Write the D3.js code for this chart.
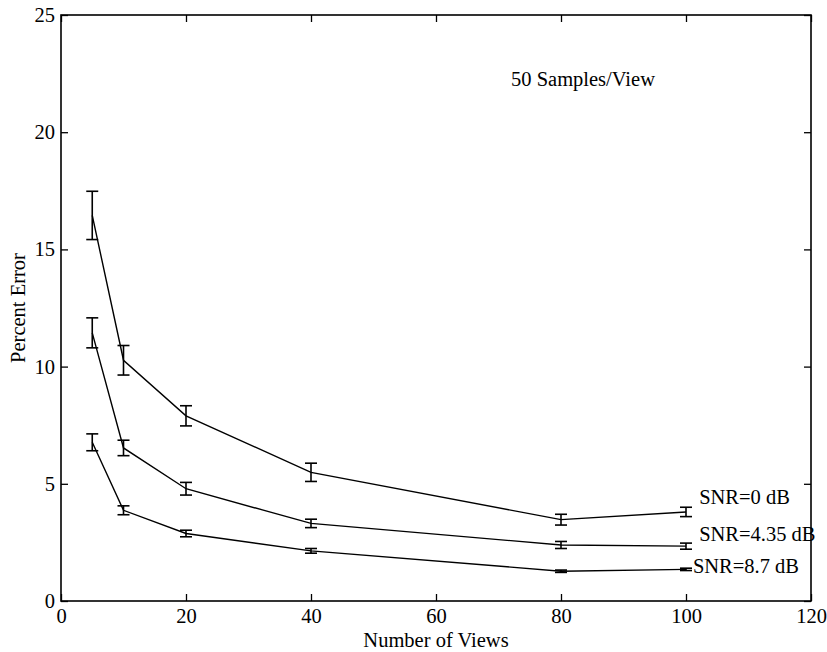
<!DOCTYPE html>
<html>
<head>
<meta charset="utf-8">
<script src="https://cdn.jsdelivr.net/npm/d3@7"></script>
<style>
  body { margin: 0; background: #fff; }
  svg { display: block; font-family: "Liberation Serif", "Times New Roman", serif; }
</style>
</head>
<body>
<div id="chart"></div>
<script>
// x values (number of views)
const views = [5, 10, 20, 40, 80, 100];

// mean percent error and half-width of error bar, per SNR
const snr0 = [16.45, 10.27, 7.9, 5.49, 3.47, 3.8];
const snr0Err = [1.03, 0.63, 0.43, 0.39, 0.23, 0.2];
const snr435 = [11.44, 6.53, 4.79, 3.31, 2.39, 2.34];
const snr435Err = [0.64, 0.33, 0.27, 0.18, 0.15, 0.13];
const snr87 = [6.77, 3.87, 2.88, 2.14, 1.27, 1.35];
const snr87Err = [0.36, 0.19, 0.14, 0.1, 0.05, 0.05];

const xTicks = [0, 20, 40, 60, 80, 100, 120];
const yTicks = [0, 5, 10, 15, 20, 25];

// text annotations in data coords
const notes = [
    { text: "50 Samples/View", x: 72, y: 21.97 },
    { text: "SNR=0 dB", x: 102.1, y: 4.14 },
    { text: "SNR=4.35 dB", x: 102.1, y: 2.56 },
    { text: "SNR=8.7 dB", x: 101.1, y: 1.19 }
];

const series = [
    { name: "SNR=0 dB", values: snr0, errs: snr0Err },
    { name: "SNR=4.35 dB", values: snr435, errs: snr435Err },
    { name: "SNR=8.7 dB", values: snr87, errs: snr87Err }
];

function drawChart() {
    const width = 827;
    const height = 652;
    const margin = { top: 15, right: 16, bottom: 51, left: 61 };
    const fontSize = 20.5;

    const svg = d3.select("#chart")
        .append("svg")
        .attr("width", width)
        .attr("height", height);

    svg.append("rect")
        .attr("width", width)
        .attr("height", height)
        .attr("fill", "#fff");

    const xScale = d3.scaleLinear()
        .domain([0, 120])
        .range([margin.left, width - margin.right]);

    const yScale = d3.scaleLinear()
        .domain([0, 25])
        .range([height - margin.bottom, margin.top]);

    // bottom axis, ticks pointing in
    const xAxis = svg.append("g")
        .attr("transform", `translate(0,${height - margin.bottom})`)
        .call(d3.axisBottom(xScale)
            .tickValues(xTicks)
            .tickSizeInner(-7)
            .tickSizeOuter(0)
            .tickPadding(7));

    // left axis
    const yAxis = svg.append("g")
        .attr("transform", `translate(${margin.left},0)`)
        .call(d3.axisLeft(yScale)
            .tickValues(yTicks)
            .tickSizeInner(-7)
            .tickSizeOuter(0)
            .tickPadding(6));

    // top and right: ticks only
    const topAxis = svg.append("g")
        .attr("transform", `translate(0,${margin.top})`)
        .call(d3.axisTop(xScale).tickValues(xTicks).tickSizeInner(-7).tickSizeOuter(0).tickFormat(""));

    const rightAxis = svg.append("g")
        .attr("transform", `translate(${width - margin.right},0)`)
        .call(d3.axisRight(yScale).tickValues(yTicks).tickSizeInner(-7).tickSizeOuter(0).tickFormat(""));

    [xAxis, yAxis, topAxis, rightAxis].forEach(g => {
        g.select(".domain").remove();
        g.selectAll("line").attr("stroke", "#000").attr("stroke-width", 1.3);
        g.selectAll("text")
            .attr("fill", "#000")
            .style("font-size", fontSize + "px")
            .style("font-family", "'Liberation Serif', serif");
    });

    // frame
    svg.append("rect")
        .attr("x", xScale(0))
        .attr("y", yScale(25))
        .attr("width", xScale(120) - xScale(0))
        .attr("height", yScale(0) - yScale(25))
        .attr("fill", "none")
        .attr("stroke", "#000")
        .attr("stroke-width", 1.6);

    const line = d3.line()
        .x(d => xScale(d.x))
        .y(d => yScale(d.y));

    const capW = 6;

    series.forEach(s => {
        const pts = views.map((v, i) => ({ x: v, y: s.values[i], e: s.errs[i] }));

        svg.append("path")
            .datum(pts)
            .attr("d", line)
            .attr("fill", "none")
            .attr("stroke", "#000")
            .attr("stroke-width", 1.4);

        const bars = svg.append("g")
            .attr("stroke", "#000")
            .attr("stroke-width", 1.6)
            .selectAll("g")
            .data(pts)
            .join("g");

        bars.append("line")
            .attr("x1", d => xScale(d.x))
            .attr("x2", d => xScale(d.x))
            .attr("y1", d => yScale(d.y - d.e))
            .attr("y2", d => yScale(d.y + d.e));

        bars.append("line")
            .attr("x1", d => xScale(d.x) - capW)
            .attr("x2", d => xScale(d.x) + capW)
            .attr("y1", d => yScale(d.y + d.e))
            .attr("y2", d => yScale(d.y + d.e));

        bars.append("line")
            .attr("x1", d => xScale(d.x) - capW)
            .attr("x2", d => xScale(d.x) + capW)
            .attr("y1", d => yScale(d.y - d.e))
            .attr("y2", d => yScale(d.y - d.e));
    });

    // annotations
    svg.append("g")
        .selectAll("text")
        .data(notes)
        .join("text")
        .attr("x", d => xScale(d.x))
        .attr("y", d => yScale(d.y))
        .style("font-size", fontSize + "px")
        .text(d => d.text);

    // axis titles
    svg.append("text")
        .attr("x", (xScale(0) + xScale(120)) / 2)
        .attr("y", 647)
        .attr("text-anchor", "middle")
        .style("font-size", fontSize + "px")
        .text("Number of Views");

    svg.append("text")
        .attr("transform", `translate(25,${(yScale(0) + yScale(25)) / 2}) rotate(-90)`)
        .attr("text-anchor", "middle")
        .style("font-size", fontSize + "px")
        .text("Percent Error");
}

document.addEventListener("DOMContentLoaded", drawChart);
</script>
</body>
</html>
